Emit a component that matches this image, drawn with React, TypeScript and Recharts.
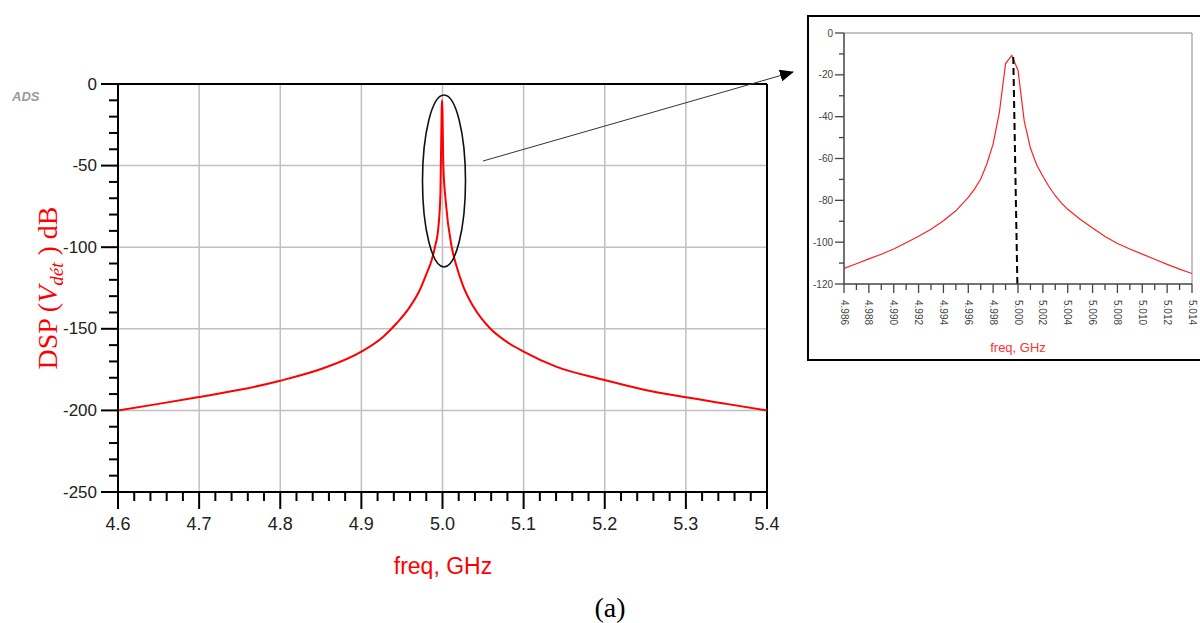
import React from "react";
import {
  LineChart,
  Line,
  XAxis,
  YAxis,
  CartesianGrid,
  ReferenceLine,
} from "recharts";

// main sweep, 4.6 - 5.4 GHz
const mainFreq = [
  4.6, 4.65, 4.7, 4.75, 4.8, 4.853, 4.9, 4.927, 4.9435, 4.96, 4.972, 4.9805,
  4.9867, 4.9908, 4.995, 4.9975, 4.999, 4.9995, 5.0, 5.001, 5.004, 5.0113,
  5.0175, 5.0257, 5.038, 5.0585, 5.079, 5.1, 5.14, 5.2, 5.25, 5.3, 5.35, 5.4,
];
const mainDsp = [
  -200, -196, -191.8, -187.4, -181.8, -174.2, -164, -154.8, -146.6, -136.4,
  -126.2, -116, -107.8, -99.7, -87.4, -66, -15, -10, -17.8, -50, -72, -99.7,
  -112, -124.2, -136.4, -149.7, -157.9, -164, -173.2, -181.4, -187.5, -192,
  -196, -200,
];

// zoomed sweep around the carrier
const zoomFreq = [
  4.986, 4.987, 4.988, 4.989, 4.99, 4.991, 4.992, 4.993, 4.994, 4.995, 4.996,
  4.9965, 4.997, 4.9975, 4.998, 4.9985, 4.999, 4.9995, 5.0, 5.0005, 5.001,
  5.0015, 5.002, 5.0025, 5.003, 5.0035, 5.004, 5.005, 5.006, 5.007, 5.008,
  5.009, 5.01, 5.011, 5.012, 5.013, 5.014,
];
const zoomDsp = [
  -112.5, -110.3, -108, -105.8, -103.3, -100.3, -97.2, -93.8, -89.8, -85,
  -78.6, -74.6, -69.8, -62.5, -53, -38, -14.6, -10.7, -17.8, -42, -55, -63,
  -68.5, -73.5, -77.8, -81.3, -84.3, -89, -93.2, -97.3, -100.6, -103.3, -105.7,
  -108.2, -110.6, -112.9, -115,
];

const mainXMajor = [4.6, 4.7, 4.8, 4.9, 5.0, 5.1, 5.2, 5.3, 5.4];
const mainXLabels = ["4.6", "4.7", "4.8", "4.9", "5.0", "5.1", "5.2", "5.3", "5.4"];
const mainYMajor = [-250, -200, -150, -100, -50, 0];
const zoomXMajor = [
  4.986, 4.988, 4.99, 4.992, 4.994, 4.996, 4.998, 5.0, 5.002, 5.004, 5.006,
  5.008, 5.01, 5.012, 5.014,
];
const zoomXLabels = [
  "4.986", "4.988", "4.990", "4.992", "4.994", "4.996", "4.998", "5.000",
  "5.002", "5.004", "5.006", "5.008", "5.010", "5.012", "5.014",
];
const zoomYMajor = [-120, -100, -80, -60, -40, -20, 0];

const mainData = mainFreq.map((f, i) => ({ f, v: mainDsp[i] }));
const zoomData = zoomFreq.map((f, i) => ({ f, v: zoomDsp[i] }));

// majors plus evenly spaced minor ticks in between
function withMinor(major: number[], parts: number) {
  const out: number[] = [];
  major.forEach((m, i) => {
    out.push(m);
    if (i < major.length - 1) {
      const step = (major[i + 1] - m) / parts;
      for (let k = 1; k < parts; k++) out.push(+(m + step * k).toFixed(6));
    }
  });
  return out;
}

const isMajor = (major: number[], v: number) =>
  major.findIndex((m) => Math.abs(m - v) < 1e-7);

const MainXTick = (p: any) => {
  const idx = isMajor(mainXMajor, p.payload.value);
  return (
    <g>
      <line x1={p.x} x2={p.x} y1={p.y} y2={p.y + (idx >= 0 ? 17 : 9)} stroke="#000" strokeWidth={2} />
      {idx >= 0 && (
        <text x={p.x} y={p.y + 38} textAnchor="middle" fontSize={18} fill="#222" fontFamily="Liberation Sans, Arial, sans-serif">
          {mainXLabels[idx]}
        </text>
      )}
    </g>
  );
};

const MainYTick = (p: any) => {
  const idx = isMajor(mainYMajor, p.payload.value);
  return (
    <g>
      <line x1={p.x - (idx >= 0 ? 17 : 9)} x2={p.x} y1={p.y} y2={p.y} stroke="#000" strokeWidth={2} />
      {idx >= 0 && (
        <text x={p.x - 21} y={p.y} textAnchor="end" dominantBaseline="central" fontSize={17} fill="#222" fontFamily="Liberation Sans, Arial, sans-serif">
          {mainYMajor[idx]}
        </text>
      )}
    </g>
  );
};

const ZoomXTick = (p: any) => {
  const idx = isMajor(zoomXMajor, p.payload.value);
  const ty = p.y + 16;
  return (
    <g>
      <line x1={p.x} x2={p.x} y1={p.y} y2={p.y + (idx >= 0 ? 9 : 6)} stroke="#444" strokeWidth={1.3} />
      {idx >= 0 && (
        <text x={p.x} y={ty} transform={`rotate(90 ${p.x} ${ty})`} textAnchor="start" dominantBaseline="central" fontSize={10} fill="#444" fontFamily="Liberation Sans, Arial, sans-serif">
          {zoomXLabels[idx]}
        </text>
      )}
    </g>
  );
};

const ZoomYTick = (p: any) => {
  const idx = isMajor(zoomYMajor, p.payload.value);
  return (
    <g>
      <line x1={p.x - (idx >= 0 ? 9 : 5)} x2={p.x} y1={p.y} y2={p.y} stroke="#444" strokeWidth={1.3} />
      {idx >= 0 && (
        <text x={p.x - 11} y={p.y} textAnchor="end" dominantBaseline="central" fontSize={10} fill="#444" fontFamily="Liberation Sans, Arial, sans-serif">
          {zoomYMajor[idx]}
        </text>
      )}
    </g>
  );
};

export default function App() {
  return (
    <div style={{ position: "absolute", left: 0, top: 0, width: 1200, height: 623, background: "#fff", overflow: "hidden" }}>
      <div style={{ position: "absolute", left: 0, top: 0 }}>
        <LineChart width={800} height={560} data={mainData} margin={{ top: 84, right: 33, bottom: 28, left: 58 }}>
          <CartesianGrid
            stroke="#c0c0c0"
            strokeWidth={1.5}
            horizontalValues={mainYMajor.slice(1, -1)}
            verticalValues={mainXMajor.slice(1, -1)}
          />
          <XAxis
            dataKey="f"
            type="number"
            domain={[4.6, 5.4]}
            ticks={withMinor(mainXMajor, 5)}
            interval={0}
            tick={MainXTick}
            tickLine={false}
            tickSize={0}
            tickMargin={0}
            height={40}
            axisLine={{ stroke: "#000", strokeWidth: 2 }}
            allowDataOverflow
          />
          <YAxis
            type="number"
            domain={[-250, 0]}
            ticks={withMinor(mainYMajor, 5)}
            interval={0}
            tick={MainYTick}
            tickLine={false}
            tickSize={0}
            tickMargin={0}
            width={60}
            axisLine={{ stroke: "#000", strokeWidth: 2 }}
            allowDataOverflow
          />
          <ReferenceLine y={0} stroke="#000" strokeWidth={2} />
          <ReferenceLine x={5.4} stroke="#000" strokeWidth={2} />
          <Line dataKey="v" type="monotone" stroke="#ff0000" strokeWidth={2} dot={false} isAnimationActive={false} />
        </LineChart>
      </div>

      {/* inset frame */}
      <div style={{ position: "absolute", left: 807, top: 15, width: 420, height: 342, border: "2px solid #000", boxSizing: "content-box" }} />
      <div style={{ position: "absolute", left: 780, top: 0 }}>
        <LineChart width={420} height={380} data={zoomData} margin={{ top: 33, right: 8, bottom: 56, left: 24 }}>
          <XAxis
            dataKey="f"
            type="number"
            domain={[4.986, 5.014]}
            ticks={withMinor(zoomXMajor, 2)}
            interval={0}
            tick={ZoomXTick}
            tickLine={false}
            tickSize={0}
            tickMargin={0}
            height={40}
            axisLine={{ stroke: "#444", strokeWidth: 1.5 }}
            allowDataOverflow
          />
          <YAxis
            type="number"
            domain={[-120, 0]}
            ticks={withMinor(zoomYMajor, 2)}
            interval={0}
            tick={ZoomYTick}
            tickLine={false}
            tickSize={0}
            tickMargin={0}
            width={40}
            axisLine={{ stroke: "#444", strokeWidth: 1.5 }}
            allowDataOverflow
          />
          <ReferenceLine y={0} stroke="#888" strokeWidth={1} />
          <ReferenceLine x={5.014} stroke="#888" strokeWidth={1} />
          <Line dataKey="v" type="linear" stroke="#ff2020" strokeWidth={1.2} dot={false} isAnimationActive={false} />
          <ReferenceLine
            segment={[{ x: 4.99962, y: -11.5 }, { x: 4.99995, y: -120 }]}
            stroke="#000"
            strokeWidth={2}
            strokeDasharray="7 4"
            ifOverflow="visible"
          />
        </LineChart>
      </div>

      {/* annotations and titles */}
      <svg width={1200} height={623} style={{ position: "absolute", left: 0, top: 0, pointerEvents: "none" }}>
        <defs>
          <marker id="arrowHead" markerWidth="14" markerHeight="12" refX="13" refY="6" orient="auto" markerUnits="userSpaceOnUse">
            <path d="M0,0 L14,6 L0,12 Z" fill="#000" />
          </marker>
        </defs>
        <ellipse cx={444} cy={181} rx={21.5} ry={86} fill="none" stroke="#111" strokeWidth={1.6} />
        <line x1={483} y1={161} x2={793} y2={72} stroke="#333" strokeWidth={1} markerEnd="url(#arrowHead)" />
        <text x={12} y={101} fontSize={13} fontWeight="bold" fontStyle="italic" fill="#9a9a9a" fontFamily="Liberation Sans, Arial, sans-serif">
          ADS
        </text>
        <text
          x={57}
          y={288}
          transform="rotate(-90 57 288)"
          textAnchor="middle"
          fontSize={28}
          fill="#ff0000"
          fontFamily="Liberation Serif, Times New Roman, serif"
        >
          DSP (<tspan fontStyle="italic">V</tspan>
          <tspan fontStyle="italic" fontSize={19} dy={6}>dét</tspan>
          <tspan dy={-6}> ) dB</tspan>
        </text>
        <text x={443} y={574} textAnchor="middle" fontSize={23} fill="#ff0000" fontFamily="Liberation Sans, Arial, sans-serif">
          freq, GHz
        </text>
        <text x={1018} y={352} textAnchor="middle" fontSize={13} fill="#ff3030" fontFamily="Liberation Sans, Arial, sans-serif">
          freq, GHz
        </text>
        <text x={610} y={617} textAnchor="middle" fontSize={28} fill="#000" fontFamily="Liberation Serif, Times New Roman, serif">
          (a)
        </text>
      </svg>
    </div>
  );
}
